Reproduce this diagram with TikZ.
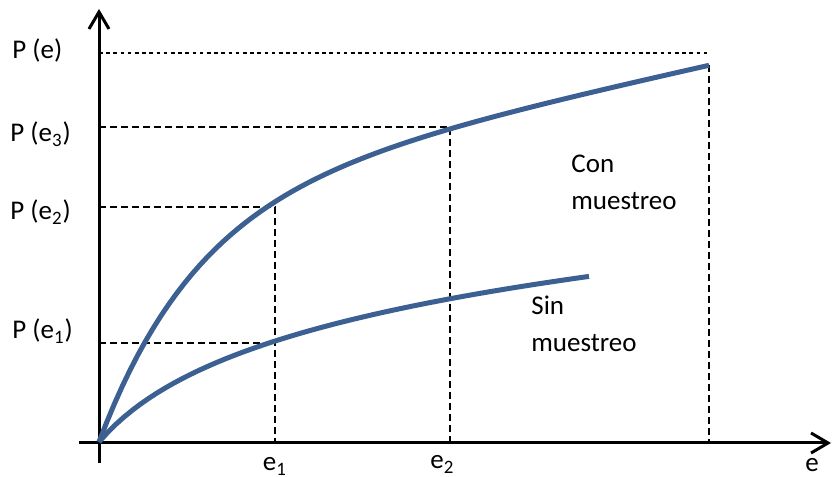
\documentclass[tikz,border=0pt]{standalone}
\usepackage{fontspec}
\setmainfont{Carlito}
\usetikzlibrary{arrows.meta}
\definecolor{curveblue}{RGB}{60,96,145}

\begin{document}
\begin{tikzpicture}[x=0.5pt,y=0.5pt]
\tikzstyle{every node}+=[inner sep=0pt,font=\fontsize{13.5}{18.5}\selectfont]
\tikzstyle{axis}=[black,line width=1.5pt,-{Straight Barb[length=8.5pt,width=10pt]}]
\tikzstyle{guide}=[black,line width=1pt,dash pattern=on 3.5pt off 2pt]
\tikzstyle{topguide}=[black,line width=0.6pt,dash pattern=on 1.8pt off 1.8pt]
\tikzstyle{curve}=[curveblue,line width=2.5pt]
\useasboundingbox (0,0) rectangle (832,477);
% axes
\coordinate (ybot) at (99,14);
\coordinate (ytop) at (99,468);
\coordinate (xleft) at (79,34);
\coordinate (xright) at (831,34);
\draw [axis] (ybot) -- (ytop);
\draw [axis] (xleft) -- (xright);
% points on the axes and on the curves
\coordinate (pe) at (99,424);
\coordinate (pe3) at (99,350);
\coordinate (pe2) at (99,270);
\coordinate (pe1) at (99,134);
\coordinate (con3) at (450,350);
\coordinate (con2) at (275,270);
\coordinate (sin1) at (268,134);
\coordinate (conend) at (709,412);
\coordinate (conend0) at (709,424);
\coordinate (foot1) at (275,34);
\coordinate (foot2) at (450,34);
\coordinate (foot3) at (709,34);
% dashed guides
\draw [topguide] (pe) -- (conend0);
\draw [guide] (conend) -- (foot3);
\draw [guide] (pe3) -- (con3) -- (foot2);
\draw [guide] (pe2) -- (con2) -- (foot1);
\draw [guide] (pe1) -- (sin1);
% curves
\draw [curve] plot [domain=0:610,samples=80] ({99+\x},{35+243*(1-exp(-\x/99.6))+0.22*\x});
\draw [curve] plot [domain=0:490,samples=60] ({99+\x},{35+77.7*ln(1+\x/66)});
% labels
\node (lpe) [anchor=base west] at (12,418) {P (e)};
\node (lpe3) [anchor=base west] at (10,335) {P (e\textsubscript{3})};
\node (lpe2) [anchor=base west] at (10,257) {P (e\textsubscript{2})};
\node (lpe1) [anchor=base west] at (12,138) {P (e\textsubscript{1})};
\node (le1) [anchor=base] at (275,6) {e\textsubscript{1}};
\node (le2) [anchor=base west] at (430,8) {e\textsubscript{2}};
\node (le) [anchor=base] at (812,5) {e};
\node (lcon) [anchor=base west,align=left] at (571,267) {Con\\muestreo};
\node (lsin) [anchor=base west,align=left] at (531,125) {Sin\\muestreo};
\end{tikzpicture}
\end{document}
